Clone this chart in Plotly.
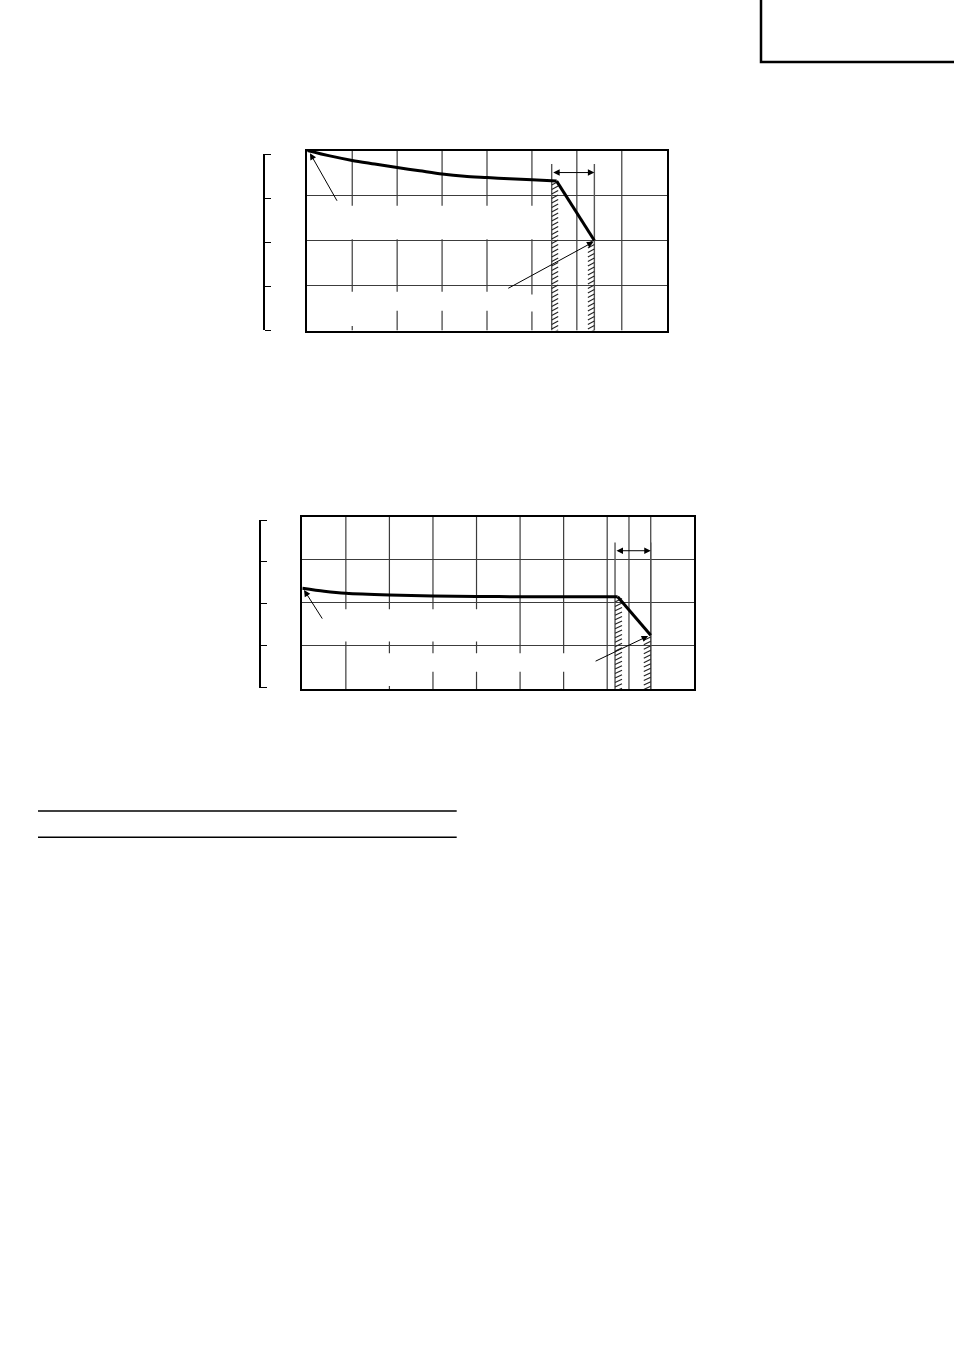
import plotly.graph_objects as go

W, H = 954, 1351

# ---------------- Chart 1 values (grid units: 8 columns x 4 rows) ----------------
c1_curve_x = [0, 0.5, 1, 1.5, 2, 2.5, 3, 3.5, 4, 4.5, 5, 5.55, 6.39]
c1_curve_y = [4.0, 3.88, 3.78, 3.70, 3.62, 3.55, 3.48, 3.43, 3.40, 3.37, 3.35, 3.32, 2.0]
c1_limits = [5.44, 6.39]          # hatched limit lines
c1_limit_top = 3.70
c1_hatch_start = [3.31, 2.01]
c1_span_y = 3.51                  # double arrow between limits
c1_ptr_a = [(0.68, 2.85), (0.06, 3.94)]   # (tail, head)
c1_ptr_b = [(4.44, 0.92), (6.37, 1.97)]
c1_vgrid_x = [1, 2, 3, 4, 5, 6, 7]
c1_vgrid_seg = [
    [(2.77, 4), (0.86, 2.03), (0, 0.10)],
    [(2.77, 4), (0.86, 2.03), (0, 0.44)],
    [(2.77, 4), (0.86, 2.03), (0, 0.44)],
    [(2.77, 4), (0.86, 2.03), (0, 0.44)],
    [(2.77, 4), (0.80, 2.03), (0, 0.42)],
    [(0, 4)],
    [(0, 4)],
]

# ---------------- Chart 2 values (grid units: 9 columns x 4 rows) ----------------
c2_curve_x = [0, 0.5, 1, 2, 3, 4, 5, 6, 7.24, 8.0]
c2_curve_y = [2.34, 2.27, 2.22, 2.18, 2.16, 2.15, 2.14, 2.14, 2.14, 1.25]
c2_limits = [7.18, 8.0]
c2_limit_top = 3.40
c2_hatch_start = [2.10, 1.21]
c2_span_y = 3.21
c2_ptr_a = [(0.48, 1.60), (0.04, 2.30)]
c2_ptr_b = [(6.70, 0.63), (7.94, 1.23)]
c2_vgrid_x = [1, 2, 3, 4, 5, 6, 7, 7.5, 8]
c2_vgrid_seg = [
    [(1.85, 4), (0, 1.10)],
    [(1.85, 4), (0.83, 1.10), (0, 0.07)],
    [(1.85, 4), (0.83, 1.10), (0, 0.40)],
    [(1.85, 4), (0.83, 1.10), (0, 0.40)],
    [(0.83, 4), (0, 0.40)],
    [(0.83, 4), (0, 0.40)],
    [(0, 4)],
    [(0, 4)],
    [(0, 4)],
]

GRID = "#3c3c3c"


def px(x):
    return x / W


def py(y):
    return 1 - y / H


def grid_trace(xs, segs, xa, ya):
    gx, gy = [], []
    for x, ss in zip(xs, segs):
        for a, b in ss:
            gx += [x, x, None]
            gy += [a, b, None]
    return go.Scatter(x=gx, y=gy, mode="lines", xaxis=xa, yaxis=ya,
                      line=dict(color=GRID, width=1.2), hoverinfo="skip", showlegend=False)


def hatch_traces(limits, starts, top, step, dx, dy, xa, ya):
    lx, ly = [], []
    for x in limits:
        lx += [x, x, None]
        ly += [0, top, None]
    hx, hy = [], []
    # left limit: strokes on its right; right limit: strokes on its left
    for i, (x, s) in enumerate(zip(limits, starts)):
        x0 = x if i == 0 else x - dx
        y = s - dy
        while y > -dy:
            hx += [x0, x0 + dx, None]
            hy += [y, y + dy, None]
            y -= step
    return [
        go.Scatter(x=lx, y=ly, mode="lines", xaxis=xa, yaxis=ya,
                   line=dict(color="#555555", width=1.4), hoverinfo="skip", showlegend=False),
        go.Scatter(x=hx, y=hy, mode="lines", xaxis=xa, yaxis=ya,
                   line=dict(color="#222222", width=1.1), hoverinfo="skip", showlegend=False),
    ]


def curve_traces(cx, cy, xa, ya):
    # smooth falling curve up to the knee, straight drop after it
    return [
        go.Scatter(x=cx[:-1], y=cy[:-1], mode="lines", xaxis=xa, yaxis=ya,
                   line=dict(color="black", width=3, shape="spline", smoothing=0.8),
                   hoverinfo="skip", showlegend=False),
        go.Scatter(x=cx[-2:], y=cy[-2:], mode="lines", xaxis=xa, yaxis=ya,
                   line=dict(color="black", width=3), hoverinfo="skip", showlegend=False),
    ]


fig = go.Figure()

# chart 1
fig.add_trace(grid_trace(c1_vgrid_x, c1_vgrid_seg, "x", "y"))
fig.add_traces(hatch_traces(c1_limits, c1_hatch_start, c1_limit_top, 0.1, 0.145, 0.075, "x", "y"))
fig.add_traces(curve_traces(c1_curve_x, c1_curve_y, "x", "y"))
# chart 2
fig.add_trace(grid_trace(c2_vgrid_x, c2_vgrid_seg, "x2", "y2"))
fig.add_traces(hatch_traces(c2_limits, c2_hatch_start, c2_limit_top, 0.104, 0.16, 0.078, "x2", "y2"))
fig.add_traces(curve_traces(c2_curve_x, c2_curve_y, "x2", "y2"))
# carriers for the bracket axes
fig.add_trace(go.Scatter(x=[None], y=[None], xaxis="x", yaxis="y3", showlegend=False))
fig.add_trace(go.Scatter(x=[None], y=[None], xaxis="x2", yaxis="y4", showlegend=False))

ax_common = dict(showgrid=False, zeroline=False, showticklabels=False, ticks="",
                 showline=True, mirror=True, linecolor="black", linewidth=2, fixedrange=True)
ay_common = dict(showgrid=True, gridcolor=GRID, gridwidth=1.2, dtick=1, tick0=0,
                 zeroline=False, showticklabels=False, ticks="",
                 showline=True, mirror=True, linecolor="black", linewidth=2, fixedrange=True)
br_common = dict(anchor="free", side="right", range=[0, 4], showline=True, linecolor="black",
                 linewidth=2, ticks="outside", ticklen=6, tickwidth=1.3, tickcolor="black",
                 tickvals=[0, 1, 2, 3, 4], showticklabels=False, showgrid=False,
                 zeroline=False, fixedrange=True)

fig.update_layout(
    width=W, height=H, margin=dict(l=0, r=0, t=0, b=0),
    paper_bgcolor="white", plot_bgcolor="rgba(0,0,0,0)", showlegend=False,
    xaxis=dict(domain=[px(307.3), px(666.7)], range=[0, 8], anchor="y", **ax_common),
    yaxis=dict(domain=[py(330.5), py(150.5)], range=[0, 4], anchor="x", **ay_common),
    xaxis2=dict(domain=[px(302.3), px(694.3)], range=[0, 9], anchor="y2", **ax_common),
    yaxis2=dict(domain=[py(689), py(516.7)], range=[0, 4], anchor="x2", **ay_common),
    yaxis3=dict(domain=[py(330), py(154)], position=px(264), **br_common),
    yaxis4=dict(domain=[py(687.7), py(520)], position=px(260), **br_common),
)

# pointer arrows and limit span arrows
arrows = [
    ("x", "y", c1_ptr_a), ("x", "y", c1_ptr_b),
    ("x2", "y2", c2_ptr_a), ("x2", "y2", c2_ptr_b),
]
for xa, ya, (tail, head) in arrows:
    fig.add_annotation(x=head[0], y=head[1], ax=tail[0], ay=tail[1], xref=xa, yref=ya,
                       axref=xa, ayref=ya, text="", showarrow=True, arrowhead=2,
                       arrowsize=1.3, arrowwidth=1, arrowcolor="black", standoff=0)
for xa, ya, lim, yv in [("x", "y", c1_limits, c1_span_y), ("x2", "y2", c2_limits, c2_span_y)]:
    fig.add_annotation(x=lim[1], y=yv, ax=lim[0], ay=yv, xref=xa, yref=ya,
                       axref=xa, ayref=ya, text="", showarrow=True, arrowhead=2,
                       arrowside="end+start", arrowsize=1.3, arrowwidth=1,
                       arrowcolor="black", standoff=0, startstandoff=0)

# page decorations: corner box and ruled lines
fig.add_shape(type="path", xref="paper", yref="paper",
              path=f"M {px(761)},{py(0)} L {px(761)},{py(62)} L {px(954)},{py(62)}",
              line=dict(color="black", width=2.5))
for yy in [811, 837.3]:
    fig.add_shape(type="line", xref="paper", yref="paper",
                  x0=px(38), x1=px(456.7), y0=py(yy), y1=py(yy),
                  line=dict(color="black", width=1.5))

fig.write_html("out.html", config={"displayModeBar": False},
               post_script="document.body.style.margin='0';document.body.style.overflow='hidden';")
